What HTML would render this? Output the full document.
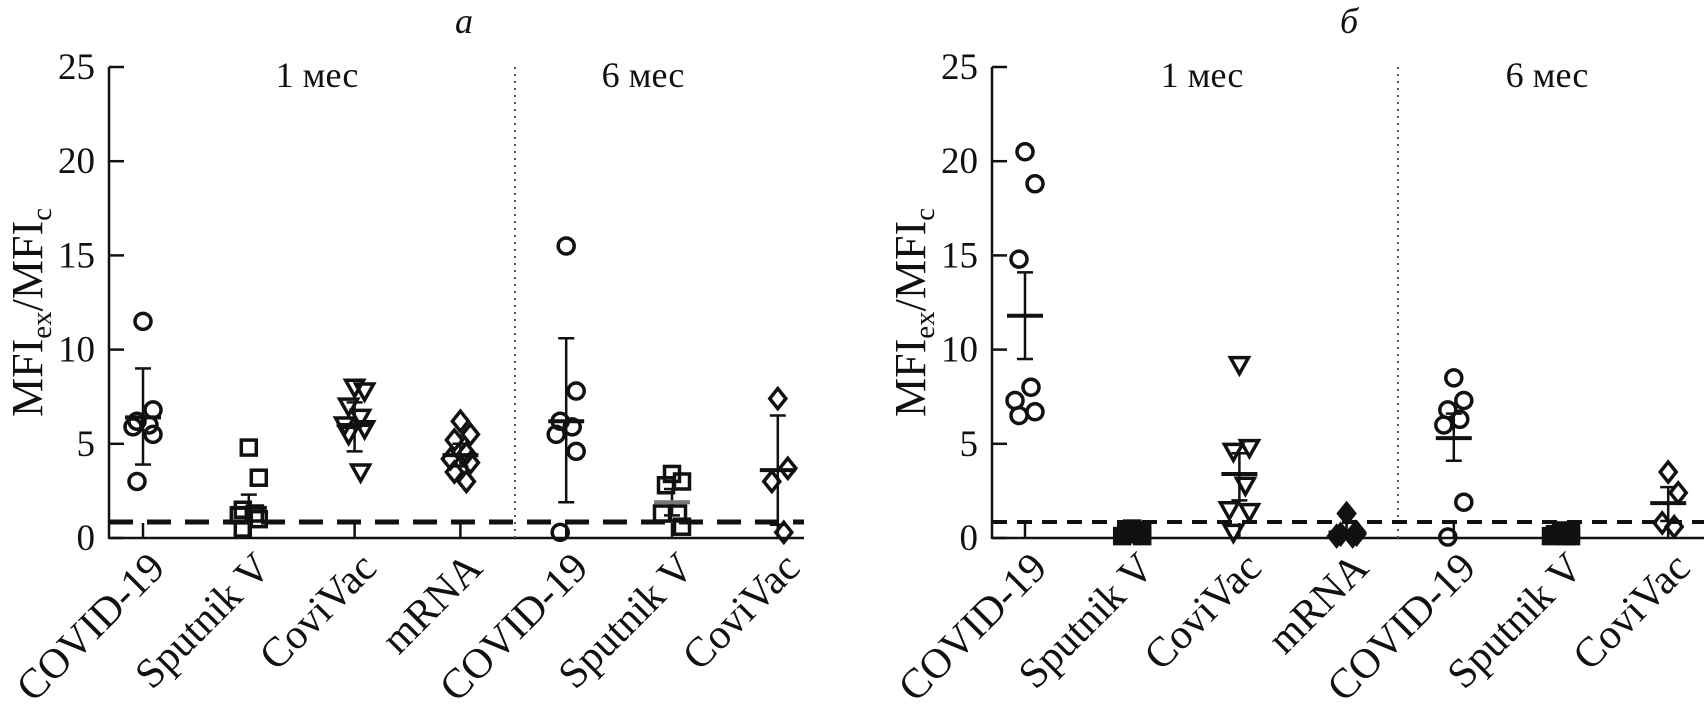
<!DOCTYPE html>
<html><head><meta charset="utf-8"><style>
html,body{margin:0;padding:0;background:#fff;width:1704px;height:710px;overflow:hidden}
svg text{font-family:"Liberation Serif",serif;fill:#111}
</style></head><body>
<svg id="chart" width="1704" height="710" viewBox="0 0 1704 710" xmlns="http://www.w3.org/2000/svg"></svg>
<script>
const categories = ["COVID-19","Sputnik V","CoviVac","mRNA","COVID-19","Sputnik V","CoviVac"];
const markers = ["circle","square","tri","diamond","circle","square","diamond"];
const yTicks = [0,5,10,15,20,25];
const panelTitles = ["а","б"];
const periodLabels = ["1 мес","6 мес"];
const thresholdValue = 0.85;
// panel a
const aValues = [
 [11.5,6.8,6.2,6.0,5.9,5.5,3.0],
 [4.8,3.2,1.5,1.3,1.2,1.0,0.5],
 [8.0,7.8,7.0,6.4,6.0,5.8,5.5,3.5],
 [6.2,5.5,5.2,4.5,4.2,4.0,3.5,3.0],
 [15.5,7.8,6.2,5.9,5.5,4.6,0.3],
 [3.4,3.0,2.8,1.3,1.3,0.6],
 [7.4,3.7,3.0,0.3]
];
const aMean = [6.4,1.6,6.0,4.4,6.2,1.9,3.6];
const aLow  = [3.9,0.9,4.6,3.8,1.9,1.2,0.7];
const aHigh = [9.0,2.3,7.2,5.0,10.6,2.6,6.5];
// panel b
const bValues = [
 [20.5,18.8,14.8,8.0,7.3,6.7,6.5],
 [0.5,0.4,0.3,0.2,0.1,0.1,0.2],
 [9.2,4.8,4.6,2.8,1.5,1.4,0.3],
 [1.3,0.3,0.2,0.1,0.1,0.2],
 [8.5,7.3,6.8,6.3,6.0,1.9,0.05],
 [0.4,0.3,0.2,0.1,0.1,0.1],
 [3.5,2.4,0.8,0.6]
];
const bMean = [11.8,0.2,3.4,0.3,5.3,0.15,1.85];
const bLow  = [9.5,0.1,2.0,0.2,4.1,0.1,0.9];
const bHigh = [14.1,0.3,4.5,0.4,6.6,0.2,2.7];

const NS="http://www.w3.org/2000/svg";
const svg=document.getElementById('chart');
function el(tag,attrs,parent){const e=document.createElementNS(NS,tag);for(const k in attrs)e.setAttribute(k,attrs[k]);(parent||svg).appendChild(e);return e;}
const Y0=538, UNIT=18.84;
const yScale=v=>Y0-v*UNIT;

function marker(g,type,x,y,filled){
  let m;
  const st={fill:filled?"#111":"none",stroke:"#111","stroke-width":3.5};
  if(type==="circle"){m=el('circle',Object.assign({cx:x,cy:y,r:8},st),g);}
  else if(type==="square"){m=el('rect',Object.assign({x:x-7.5,y:y-7.5,width:15,height:15},st),g);}
  else if(type==="tri"){m=el('polygon',Object.assign({points:`${x-9},${y-7} ${x+9},${y-7} ${x},${y+9}`},st),g);}
  else {m=el('polygon',Object.assign({points:`${x},${y-10} ${x+8},${y} ${x},${y+10} ${x-8},${y}`},st),g);}
  
  
}

function panel(cfg,values,mean,low,high,title){
  const {px,x0,spacing,xEnd,divX,titleX,p1X,p2X,dashW,dash,filledGroups,greyMean}=cfg;
  const g=el('g',{});
  
  
  const xs=i=>x0+i*spacing;
  const t=el('text',{x:titleX,y:33,'font-size':36,'font-style':'italic','text-anchor':'middle'},g);
  t.textContent=title;
  
  
  const ax=el('line',{x1:px,y1:Y0+1,x2:px,y2:yScale(25),stroke:'#111','stroke-width':2.5},g);
  
  
  const bx=el('line',{x1:px,y1:Y0,x2:xEnd,y2:Y0,stroke:'#111','stroke-width':2.5},g);
  
  
  yTicks.forEach(v=>{
    el('line',{x1:px,x2:px+15,y1:yScale(v),y2:yScale(v),stroke:'#111','stroke-width':2.5},g);
    const tl=el('text',{x:px-14,y:yScale(v)+12,'font-size':37,'text-anchor':'end'},g);
    tl.textContent=v;
    
    
  });
  const yl=el('text',{transform:`translate(${px-67},${yScale(12.5)+10}) rotate(-90)`,'font-size':44,'text-anchor':'middle'},g);
  yl.innerHTML='MFI<tspan font-size="29" dy="9">ex</tspan><tspan dy="-9">/MFI</tspan><tspan font-size="29" dy="9">c</tspan>';
  
  
  const dv=el('line',{x1:divX,x2:divX,y1:yScale(25),y2:Y0,stroke:'#555','stroke-width':2,'stroke-dasharray':'2 5'},g);
  
  
  [[p1X,periodLabels[0]],[p2X,periodLabels[1]]].forEach(([x,s])=>{
    const p=el('text',{x:x,y:87,'font-size':36,'text-anchor':'middle'},g);
    p.textContent=s;
    
    
  });
  const th=el('line',{x1:px,x2:xEnd,y1:yScale(thresholdValue),y2:yScale(thresholdValue),stroke:'#111','stroke-width':dashW,'stroke-dasharray':dash},g);
  
  
  categories.forEach((c,i)=>{
    const x=xs(i);
    el('line',{x1:x,x2:x,y1:Y0,y2:Y0-15,stroke:'#111','stroke-width':2.5},g);
    const filled=filledGroups.includes(i);
    values[i].forEach((v,j)=>{
      const off=j===0?0:(j%2?10:-10)*((j%4<2)?1:0.6);
      marker(g,markers[i],x+off,yScale(v),filled);
    });
    el('line',{x1:x,x2:x,y1:yScale(low[i]),y2:yScale(high[i]),stroke:'#111','stroke-width':2.5},g);
    el('line',{x1:x-8,x2:x+8,y1:yScale(low[i]),y2:yScale(low[i]),stroke:'#111','stroke-width':2.5},g);
    el('line',{x1:x-8,x2:x+8,y1:yScale(high[i]),y2:yScale(high[i]),stroke:'#111','stroke-width':2.5},g);
    const col=(i===greyMean)?'#777':'#111';
    const mm=el('line',{x1:x-18,x2:x+18,y1:yScale(mean[i]),y2:yScale(mean[i]),stroke:col,'stroke-width':4},g);
    
    
    const xl=el('text',{transform:`translate(${x+24},${Y0+32}) rotate(-45)`,'font-size':42,'text-anchor':'end'},g);
    xl.textContent=c;
    
    
  });
}
panel({px:109,x0:143,spacing:105.8,xEnd:804,divX:515,titleX:464,p1X:317,p2X:643,dashW:5,dash:'24 14',filledGroups:[],greyMean:5},aValues,aMean,aLow,aHigh,panelTitles[0]);
panel({px:992,x0:1025,spacing:107.2,xEnd:1704,divX:1398,titleX:1349,p1X:1202,p2X:1547,dashW:4,dash:'15 10',filledGroups:[1,3,5],greyMean:-1},bValues,bMean,bLow,bHigh,panelTitles[1]);
</script>
</body></html>
